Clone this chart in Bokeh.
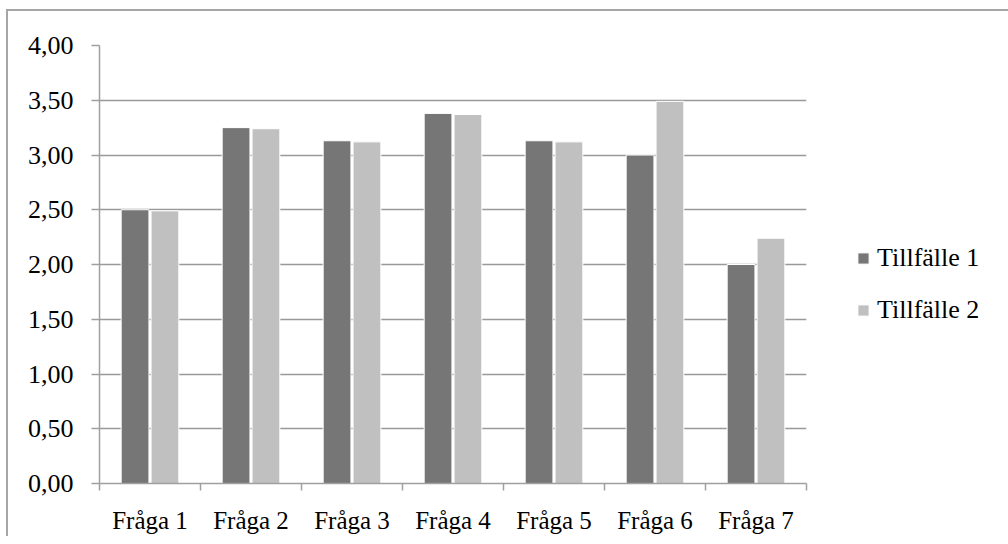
import numpy as np
from bokeh.plotting import figure
from bokeh.models import FixedTicker, Legend, LegendItem, Range1d
from bokeh.embed import file_html
from bokeh.resources import INLINE

categories = ["Fråga 1", "Fråga 2", "Fråga 3", "Fråga 4", "Fråga 5", "Fråga 6", "Fråga 7"]
tillfalle_1 = [2.50, 3.25, 3.13, 3.38, 3.13, 3.00, 2.00]
tillfalle_2 = [2.49, 3.24, 3.12, 3.37, 3.12, 3.49, 2.24]
series_names = ["Tillfälle 1", "Tillfälle 2"]
y_ticks = [0.0, 0.5, 1.0, 1.5, 2.0, 2.5, 3.0, 3.5, 4.0]
y_tick_labels = ["0,00", "0,50", "1,00", "1,50", "2,00", "2,50", "3,00", "3,50", "4,00"]

FONT = "Liberation Serif"
AXIS_COLOR = "#a0a0a0"
DARK = "#767676"
LIGHT = "#c0c0c0"

p = figure(frame_width=707, frame_height=438, output_backend="svg", toolbar_location=None,
           x_range=Range1d(0, len(categories)), y_range=Range1d(0, 4),
           min_border_left=91, min_border_right=190, min_border_top=34, min_border_bottom=48)
p.styles = {"border-top": "2px solid #a6a6a6", "border-left": "2px solid #a6a6a6",
            "margin-left": "6px", "margin-top": "9px"}
p.outline_line_alpha = 0
p.background_fill_color = "white"
p.border_fill_color = "white"

centers = np.arange(len(categories)) + 0.5
r1 = p.vbar(x=centers - 0.148, top=tillfalle_1, width=0.275, fill_color=DARK, line_color="white", line_width=1)
r2 = p.vbar(x=centers + 0.148, top=tillfalle_2, width=0.275, fill_color=LIGHT, line_color="white", line_width=1)

# y axis
p.yaxis.ticker = FixedTicker(ticks=y_ticks, minor_ticks=[])
p.yaxis.major_label_overrides = {t: l for t, l in zip(y_ticks, y_tick_labels)}
p.yaxis.major_tick_out = 8
p.yaxis.major_tick_in = 0
p.yaxis.minor_tick_out = 0
p.yaxis.minor_tick_in = 0
p.yaxis.major_label_standoff = 18
p.yaxis.axis_line_color = AXIS_COLOR
p.yaxis.axis_line_width = 1.5
p.yaxis.major_tick_line_color = AXIS_COLOR
p.yaxis.major_tick_line_width = 1.5
p.yaxis.major_label_text_font = FONT
p.yaxis.major_label_text_font_size = "26px"
p.yaxis.major_label_text_color = "black"

# x axis
p.xaxis.ticker = FixedTicker(ticks=list(centers), minor_ticks=list(range(len(categories) + 1)))
p.xaxis.major_label_overrides = {float(c): name for c, name in zip(centers, categories)}
p.xaxis.major_tick_out = 0
p.xaxis.major_tick_in = 0
p.xaxis.minor_tick_out = 7
p.xaxis.minor_tick_in = 0
p.xaxis.minor_tick_line_color = AXIS_COLOR
p.xaxis.minor_tick_line_width = 1.5
p.xaxis.major_label_standoff = 16
p.xaxis.axis_line_color = AXIS_COLOR
p.xaxis.axis_line_width = 1.5
p.xaxis.major_label_text_font = FONT
p.xaxis.major_label_text_font_size = "25px"
p.xaxis.major_label_text_color = "black"

# grid
p.xgrid.visible = False
p.ygrid.ticker = FixedTicker(ticks=y_ticks)
p.ygrid.grid_line_color = "#999999"
p.ygrid.grid_line_width = 1.5

legend = Legend(items=[LegendItem(label=series_names[0], renderers=[r1]),
                       LegendItem(label=series_names[1], renderers=[r2])],
                location=(50, 158), orientation="vertical")
legend.margin = 0
legend.padding = 0
legend.border_line_alpha = 0
legend.background_fill_alpha = 0
legend.glyph_width = 14
legend.glyph_height = 14
legend.label_height = 14
legend.spacing = 22
legend.label_standoff = 7
legend.label_text_font = FONT
legend.label_text_font_size = "26px"
legend.label_text_color = "black"
p.add_layout(legend, "right")

open("out.html", "w").write(file_html(p, INLINE))
